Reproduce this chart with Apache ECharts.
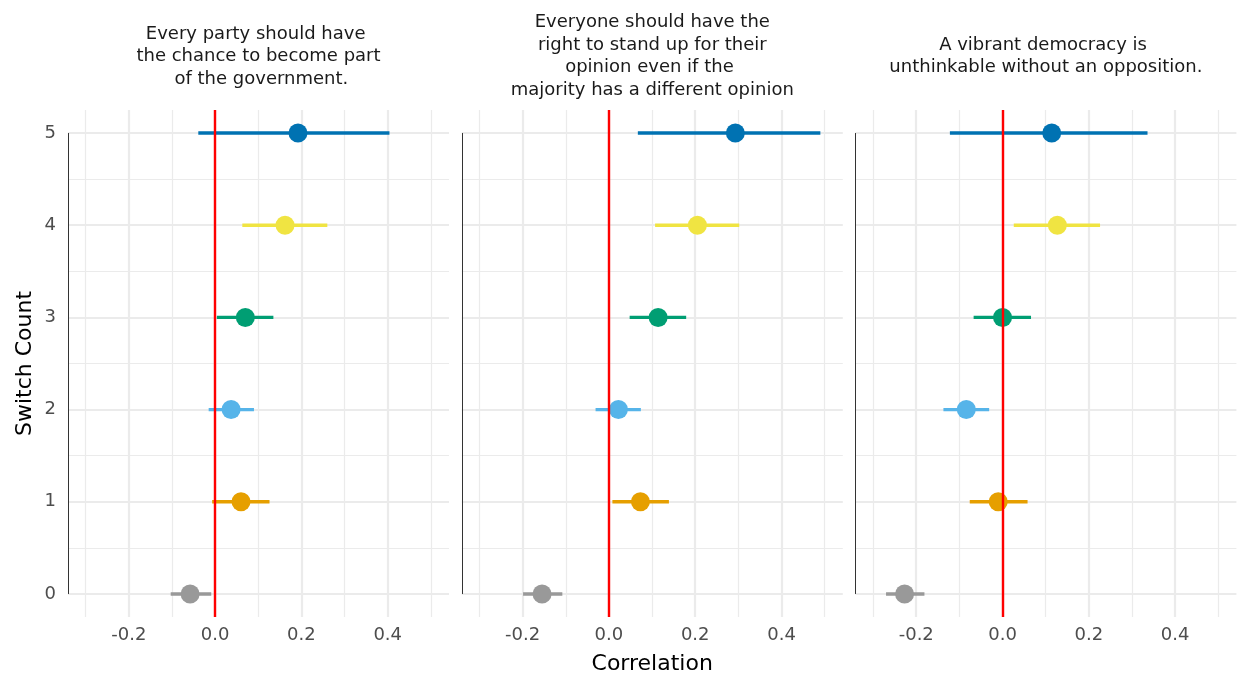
<!DOCTYPE html>
<html>
<head>
<meta charset="utf-8">
<title>Switch Count vs Correlation</title>
<script src="https://cdn.jsdelivr.net/npm/echarts@6/dist/echarts.min.js"></script>
<style>
  html, body { margin: 0; padding: 0; background: #ffffff; }
  #chart { width: 1238px; height: 677px; }
</style>
</head>
<body>
<div id="chart"></div>
<script>
// ---- data ----
const switchCounts = [0, 1, 2, 3, 4, 5];
const rowColors = ['#999999', '#E69F00', '#56B4E9', '#009E73', '#F0E442', '#0072B2'];

const panelTitles = [
  'Every party should have \nthe chance to become part\n of the government.',
  'Everyone should have the\nright to stand up for their\nopinion even if the \nmajority has a different opinion',
  'A vibrant democracy is \nunthinkable without an opposition.'
];

// correlation estimates and confidence bounds, one entry per switch count (0..5)
const partyEst  = [-0.058, 0.060, 0.037, 0.070, 0.162, 0.192];
const partyLo   = [-0.103, -0.007, -0.015, 0.004, 0.063, -0.039];
const partyHi   = [-0.009, 0.126, 0.090, 0.135, 0.260, 0.404];

const opinionEst = [-0.155, 0.073, 0.022, 0.114, 0.205, 0.293];
const opinionLo  = [-0.199, 0.008, -0.031, 0.048, 0.107, 0.067];
const opinionHi  = [-0.108, 0.139, 0.074, 0.179, 0.302, 0.490];

const oppositionEst = [-0.227, -0.010, -0.084, 0.000, 0.127, 0.114];
const oppositionLo  = [-0.270, -0.076, -0.137, -0.067, 0.026, -0.122];
const oppositionHi  = [-0.181, 0.058, -0.031, 0.066, 0.226, 0.336];

const xTickValues = [-0.2, 0, 0.2, 0.4];
const xMinorGrid = [-0.3, -0.1, 0.1, 0.3, 0.5];
const yTickValues = [0, 1, 2, 3, 4, 5];
const yMinorGrid = [0.5, 1.5, 2.5, 3.5, 4.5];

const xAxisTitle = 'Correlation';
const yAxisTitle = 'Switch Count';

// ---- layout ----
const X_MIN = -0.341, X_MAX = 0.542;
const Y_MIN = -0.25, Y_MAX = 5.25;
const panelLefts = [68, 461.8, 855.4];
const PANEL_W = 381, PANEL_TOP = 110, PANEL_H = 507;
const FONT = 'DejaVu Sans';

const panels = [
  { est: partyEst, lo: partyLo, hi: partyHi },
  { est: opinionEst, lo: opinionLo, hi: opinionHi },
  { est: oppositionEst, lo: oppositionLo, hi: oppositionHi }
];

const grids = [], xAxes = [], yAxes = [], series = [], graphics = [];

const noLine = { show: false };
const gridLine = (w) => ({ color: '#EBEBEB', width: w, type: 'solid' });

function markLineOf(data, z, lineStyle) {
  const ml = {
    silent: true, animation: false, symbol: ['none', 'none'], z: z,
    label: { show: false }, emphasis: { disabled: true },
    data: data
  };
  if (lineStyle) ml.lineStyle = lineStyle;
  return ml;
}

panels.forEach((p, i) => {
  grids.push({ left: panelLefts[i], top: PANEL_TOP, width: PANEL_W, height: PANEL_H, containLabel: false });

  xAxes.push({
    gridIndex: i, type: 'value', min: X_MIN, max: X_MAX,
    axisLine: noLine, axisTick: noLine, splitLine: noLine,
    axisLabel: {
      customValues: xTickValues,
      formatter: (v) => v.toFixed(1),
      color: '#4D4D4D', fontSize: 18, fontFamily: FONT, margin: 9
    }
  });

  yAxes.push({
    gridIndex: i, type: 'value', min: Y_MIN, max: Y_MAX,
    axisLine: noLine, axisTick: noLine, splitLine: noLine,
    axisLabel: {
      show: i === 0,
      customValues: yTickValues,
      formatter: (v) => String(v),
      color: '#4D4D4D', fontSize: 18, fontFamily: FONT, margin: 12
    }
  });

  // background grid lines
  const gridData = [];
  xMinorGrid.forEach(v => gridData.push({ xAxis: v, lineStyle: gridLine(1.2) }));
  yMinorGrid.forEach(v => gridData.push({ yAxis: v, lineStyle: gridLine(1.2) }));
  xTickValues.forEach(v => gridData.push({ xAxis: v, lineStyle: gridLine(2.2) }));
  yTickValues.forEach(v => gridData.push({ yAxis: v, lineStyle: gridLine(2.2) }));

  series.push({
    type: 'line', xAxisIndex: i, yAxisIndex: i, data: [], z: 0, silent: true,
    markLine: markLineOf(gridData, 0)
  });

  // left axis segment spanning the switch-count range
  series.push({
    type: 'line', xAxisIndex: i, yAxisIndex: i, data: [], z: 1, silent: true,
    markLine: markLineOf(
      [[{ coord: [X_MIN, yTickValues[0]] }, { coord: [X_MIN, yTickValues[yTickValues.length - 1]] }]],
      1, { color: '#333333', width: 1, type: 'solid' })
  });

  // confidence intervals with point estimates
  series.push({
    type: 'custom', xAxisIndex: i, yAxisIndex: i, z: 3, silent: true,
    encode: { x: [1, 2, 3], y: 0 },
    data: switchCounts.map((c, k) => [c, p.lo[k], p.hi[k], p.est[k]]),
    renderItem: (params, api) => {
      const y = api.value(0);
      const a = api.coord([api.value(1), y]);
      const b = api.coord([api.value(2), y]);
      const c = api.coord([api.value(3), y]);
      const color = rowColors[params.dataIndex];
      return {
        type: 'group',
        children: [
          { type: 'line', shape: { x1: a[0], y1: a[1], x2: b[0], y2: b[1] },
            style: { stroke: color, lineWidth: 3.4, lineCap: 'butt' } },
          { type: 'circle', shape: { cx: c[0], cy: c[1], r: 9.5 },
            style: { fill: color } }
        ]
      };
    }
  });

  // zero reference line
  series.push({
    type: 'line', xAxisIndex: i, yAxisIndex: i, data: [], z: 10, silent: true,
    markLine: markLineOf([{ xAxis: 0 }], 10, { color: '#FF0000', width: 2.4, type: 'solid' })
  });

  // panel heading
  graphics.push({
    type: 'text', x: panelLefts[i] + PANEL_W / 2, y: 56.5,
    style: {
      text: panelTitles[i], fontFamily: FONT, fontSize: 18, lineHeight: 22.5,
      fill: '#1A1A1A', align: 'center', verticalAlign: 'middle'
    }
  });
});

graphics.push({
  type: 'text', x: (panelLefts[0] + panelLefts[2] + PANEL_W) / 2, y: 664,
  style: { text: xAxisTitle, fontFamily: FONT, fontSize: 22, fill: '#000000',
           align: 'center', verticalAlign: 'middle' }
});
graphics.push({
  type: 'text', x: 25, y: PANEL_TOP + PANEL_H / 2, rotation: Math.PI / 2,
  style: { text: yAxisTitle, fontFamily: FONT, fontSize: 22, fill: '#000000',
           align: 'center', verticalAlign: 'middle' }
});

const chart = echarts.init(document.getElementById('chart'), null, { renderer: 'canvas' });
chart.setOption({
  animation: false,
  backgroundColor: '#ffffff',
  grid: grids,
  xAxis: xAxes,
  yAxis: yAxes,
  series: series,
  graphic: graphics
});
</script>
</body>
</html>
